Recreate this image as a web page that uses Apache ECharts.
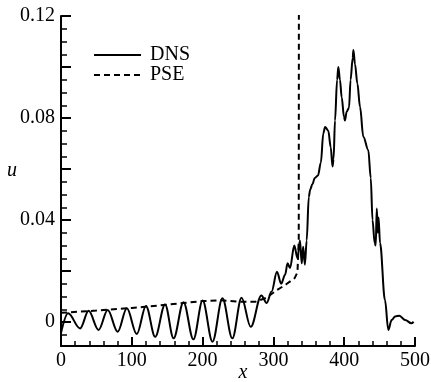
<!DOCTYPE html>
<html><head><meta charset="utf-8">
<script src="https://cdn.jsdelivr.net/npm/echarts@6/dist/echarts.min.js"></script>
<style>html,body{margin:0;padding:0;background:#fff}#c{width:431px;height:382px}</style>
</head><body><div id="c"></div>
<script>
var dnsX = [0,10,27,39,53,66,80,93,107,120,133,147,159,173,187,200,214,228,242,255,268,283,
  290.5,297.5,305,311,316.5,320,323.5,329.5,334,337.5,340,342,344.5,347,350,352,355,358.5,363,367,370.5,373,377.5,381,383.5,385,387,390,391.7,394,396.5,399.7,401,403.5,406.8,409,412,413,415.3,418.6,422.3,427,434,437.5,440,443,444.5,446,447.5,448.5,450.6,457.6,462.3,467,472,478,486,495,498];
var dnsU = [-0.0043,0.0034,-0.0025,0.0044,-0.0031,0.0047,-0.0038,0.0054,-0.0047,0.0063,-0.0058,0.0069,-0.0064,0.0078,-0.0068,0.0084,-0.0077,0.0093,-0.0064,0.0095,-0.0019,0.0104,
  0.0075,0.0120,0.0197,0.0150,0.0185,0.0230,0.0212,0.0300,0.0250,0.0320,0.0230,0.0295,0.0225,0.0320,0.0490,0.0520,0.0540,0.0565,0.0575,0.0625,0.0740,0.0765,0.0750,0.0685,0.0610,0.0640,0.0790,0.0950,0.1000,0.0950,0.0880,0.0805,0.0790,0.0825,0.0840,0.0950,0.1035,0.1067,0.1010,0.0935,0.0845,0.0727,0.0675,0.0565,0.0400,0.0310,0.0300,0.0445,0.0350,0.0410,0.0310,0.0086,-0.0031,0.0008,0.0022,0.0025,0.0008,-0.0005,0.0001];
var pseX = [0,50,100,150,200,225,250,275,290,305,318,330,334,335.8,336];
var pseU = [0.0036,0.0045,0.0055,0.0068,0.0082,0.0085,0.0080,0.0080,0.0095,0.0125,0.0148,0.0172,0.0195,0.032,0.125];
var xTicks = [0,100,200,300,400,500];
var yTickLabels = ['0','0.04','0.08','0.12'];

function pairs(xs, ys){ return xs.map(function(x,i){return [x, ys[i]];}); }
var font = 'Liberation Serif';
var chart = echarts.init(document.getElementById('c'), null, {renderer:'canvas'});
chart.setOption({
  animation:false,
  backgroundColor:'#fff',
  grid:{left:61,right:16,top:16,bottom:36,containLabel:false,outerBoundsMode:'none'},
  legend:{
    orient:'vertical', left:88, top:40, itemWidth:47, itemHeight:12, itemGap:0,
    itemStyle:{color:'rgba(0,0,0,0)',borderWidth:0,opacity:0},
    textStyle:{fontFamily:font,fontSize:20,color:'#000',padding:[0,0,0,4]},
    data:['DNS','PSE']
  },
  xAxis:{
    type:'value', min:0, max:500, interval:100,
    name:'x', nameLocation:'middle', nameGap:17, nameMoveOverlap:false,
    nameTextStyle:{fontFamily:font,fontSize:20,fontStyle:'italic',color:'#000',padding:[0,0,0,10]},
    axisLine:{onZero:false,lineStyle:{color:'#000',width:2}},
    axisTick:{inside:true,length:9,lineStyle:{color:'#000',width:2}},
    minorTick:{show:true,splitNumber:5,length:5,lineStyle:{color:'#000',width:1.5}},
    axisLabel:{fontFamily:font,fontSize:20,color:'#000',margin:5,
      formatter:function(v){return xTicks.indexOf(v)>=0?String(v):'';}},
    splitLine:{show:false}
  },
  yAxis:{
    type:'value', min:-0.0094, max:0.12, splitNumber:6,
    name:'u', nameLocation:'middle', nameGap:44, nameRotate:0, nameMoveOverlap:false,
    nameTextStyle:{fontFamily:font,fontSize:20,fontStyle:'italic',color:'#000',verticalAlign:'bottom',lineHeight:20},
    axisLine:{show:true,onZero:false,lineStyle:{color:'#000',width:2}},
    axisTick:{inside:true,length:10,lineStyle:{color:'#000',width:2}},
    minorTick:{show:true,splitNumber:4,length:6,lineStyle:{color:'#000',width:1.5}},
    axisLabel:{fontFamily:font,fontSize:20,color:'#000',margin:6,showMinLabel:false,
      formatter:function(v){var s=String(Math.round(v*100)/100);return yTickLabels.indexOf(s)>=0?s:'';}},
    splitLine:{show:false}
  },
  series:[
    {name:'DNS',type:'line',symbol:'none',smooth:0.35,smoothMonotone:'x',
     lineStyle:{color:'#000',width:2},itemStyle:{color:'#000'},data:pairs(dnsX,dnsU)},
    {name:'PSE',type:'line',symbol:'none',smooth:false,
     lineStyle:{color:'#000',width:2,type:[6,4]},itemStyle:{color:'#000'},data:pairs(pseX,pseU)}
  ]
});
</script></body></html>
